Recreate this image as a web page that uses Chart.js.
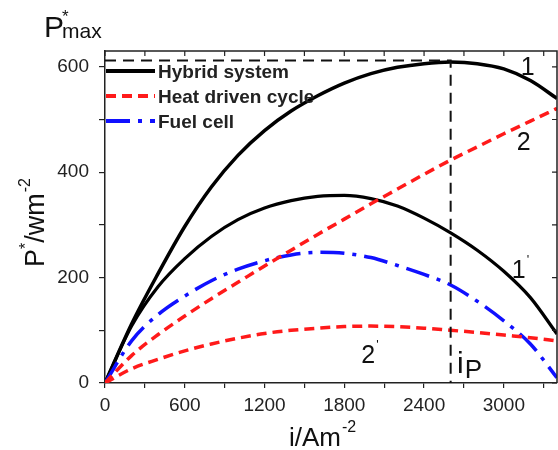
<!DOCTYPE html>
<html>
<head>
<meta charset="utf-8">
<script src="https://cdn.jsdelivr.net/npm/chart.js@4.4.0/dist/chart.umd.min.js"></script>
<style>
  html, body { margin: 0; padding: 0; background: #fff; }
</style>
</head>
<body>
<canvas id="powerChart" width="558" height="450"></canvas>
<script>
// current density, A m^-2
const currentDensity = [0, 200, 400, 600, 800, 1000, 1200, 1400, 1600, 1800, 2000, 2200, 2400, 2600, 2800, 3000, 3200, 3400];

// power density, W m^-2
const hybrid1 =     [0, 112, 208, 297, 372, 432, 479, 516, 545, 569, 587, 599, 606, 609, 606, 596, 574, 540];
const hybrid1b =    [0, 108, 183, 236, 278, 310, 332, 346, 354, 356, 350, 336, 313, 285, 252, 212, 162, 93];
const heatCycle2 =  [0, 52, 92, 127, 160, 191, 222, 252, 282, 311, 340, 368, 396, 423, 448, 473, 497, 521];
const heatCycle2b = [0, 27, 45, 61, 74, 85, 94, 100, 104, 107, 108, 107, 104, 100, 96, 91, 86, 80];
const fuelCell =    [0, 80, 130, 165, 194, 216, 232, 243, 248, 246, 238, 223, 206, 186, 155, 118, 74, 10];

// optimum point
const iP = 2600;
const pMax = 612;
const guideX = [0, iP, iP];
const guideY = [pMax, pMax, 0];

const xTicks = [0, 600, 1200, 1800, 2400, 3000];
const yTicks = [0, 200, 400, 600];

const legendNames = ['Hybrid system', 'Heat driven cycle', 'Fuel cell'];

function pts(xs, ys) {
  return xs.map((x, k) => ({ x: x, y: ys[k] }));
}

const FONT = 'Arial, "Liberation Sans", sans-serif';
Chart.defaults.font.family = FONT;

const redDash = [10, 6];
const blueDash = [24, 8, 4, 8];

function curve(data, color, width, dash) {
  return {
    data: data,
    borderColor: color,
    borderWidth: width,
    borderDash: dash || [],
    cubicInterpolationMode: 'monotone',
    pointRadius: 0,
    fill: false
  };
}

// draw text made of runs (superscripts / subscripts)
function drawRuns(ctx, x, y, runs) {
  let cx = x;
  runs.forEach(r => {
    ctx.font = (r.bold ? 'bold ' : '') + r.size + 'px ' + FONT;
    ctx.fillText(r.t, cx + (r.dx || 0), y + (r.dy || 0));
    cx += ctx.measureText(r.t).width + (r.dx || 0);
  });
}

const decorations = {
  id: 'decorations',
  afterDraw(chart) {
    const ctx = chart.ctx;
    const a = chart.chartArea;
    const xs = chart.scales.x, ys = chart.scales.y;
    ctx.save();
    ctx.strokeStyle = '#222';
    ctx.lineWidth = 1.5;
    // top and right frame
    ctx.beginPath();
    ctx.moveTo(a.left, a.top); ctx.lineTo(a.right, a.top); ctx.lineTo(a.right, a.bottom);
    ctx.stroke();
    // inward ticks on the top and right axes
    ctx.lineWidth = 1.2;
    ctx.beginPath();
    xs.ticks.forEach(t => {
      const px = xs.getPixelForValue(t.value);
      ctx.moveTo(px, a.top); ctx.lineTo(px, a.top + 5);
    });
    ys.ticks.forEach(t => {
      const py = ys.getPixelForValue(t.value);
      ctx.moveTo(a.right, py); ctx.lineTo(a.right - 5, py);
    });
    ctx.stroke();

    // legend
    const styles = [
      { color: '#000', dash: [] },
      { color: '#ff1a1a', dash: redDash },
      { color: '#1010ff', dash: blueDash }
    ];
    ctx.fillStyle = '#222';
    ctx.textBaseline = 'alphabetic';
    legendNames.forEach((name, k) => {
      const ly = a.top + 20 + k * 25;
      ctx.strokeStyle = styles[k].color;
      ctx.lineWidth = 4;
      ctx.setLineDash(styles[k].dash);
      ctx.beginPath();
      ctx.moveTo(a.left + 1, ly); ctx.lineTo(a.left + 50, ly);
      ctx.stroke();
      ctx.setLineDash([]);
      ctx.font = 'bold 19px ' + FONT;
      ctx.fillText(name, a.left + 53, ly + 7);
    });

    // curve labels, placed in data units
    ctx.fillStyle = '#111';
    const at = (i, p) => [xs.getPixelForValue(i), ys.getPixelForValue(p)];
    let q = at(3128, 584);
    drawRuns(ctx, q[0], q[1], [{ t: '1', size: 25 }]);
    q = at(3098, 442);
    drawRuns(ctx, q[0], q[1], [{ t: '2', size: 25 }]);
    q = at(3060, 199);
    drawRuns(ctx, q[0], q[1], [{ t: '1', size: 25 }, { t: '\'', size: 13, dy: -14, dx: 1 }]);
    q = at(1928, 38);
    drawRuns(ctx, q[0], q[1], [{ t: '2', size: 25 }, { t: '\'', size: 13, dy: -14, dx: 1 }]);
    q = at(2648, 19);
    drawRuns(ctx, q[0], q[1], [{ t: 'i', size: 30 }, { t: 'P', size: 26, dy: 5, dx: 1 }]);

    // P*max above the y axis
    drawRuns(ctx, 44, 37, [{ t: 'P', size: 30 }]);
    drawRuns(ctx, 62, 22, [{ t: '*', size: 17 }]);
    drawRuns(ctx, 62, 38, [{ t: 'max', size: 21 }]);

    // x axis title
    drawRuns(ctx, 289, 446, [{ t: 'i/Am', size: 26 }, { t: '-2', size: 16, dy: -14, dx: 1 }]);

    // y axis title
    ctx.translate(44, 267);
    ctx.rotate(-Math.PI / 2);
    drawRuns(ctx, 0, 0, [{ t: 'P', size: 27 }, { t: '*', size: 16, dy: -13 }, { t: '/wm', size: 27 }, { t: '-2', size: 16, dy: -14, dx: 1 }]);
    ctx.restore();
  }
};

const guide = curve(pts(guideX, guideY), '#111', 2, [11, 7]);
guide.cubicInterpolationMode = 'default';
guide.tension = 0;

new Chart(document.getElementById('powerChart'), {
  type: 'line',
  data: {
    datasets: [
      guide,
      curve(pts(currentDensity, heatCycle2b), '#ff1a1a', 3.5, redDash),
      curve(pts(currentDensity, heatCycle2), '#ff1a1a', 3.5, redDash),
      curve(pts(currentDensity, fuelCell), '#1010ff', 3.5, blueDash),
      curve(pts(currentDensity, hybrid1b), '#000', 3.2),
      curve(pts(currentDensity, hybrid1), '#000', 3.5)
    ]
  },
  options: {
    responsive: false,
    animation: false,
    devicePixelRatio: 1,
    layout: { padding: { top: 51, right: 1, bottom: 0, left: 0 } },
    plugins: { legend: { display: false }, tooltip: { enabled: false } },
    scales: {
      x: {
        type: 'linear', min: 0, max: 3400,
        afterFit: s => { s.height = 67; },
        ticks: {
          stepSize: 300, includeBounds: false, autoSkip: false, maxRotation: 0,
          padding: 6, color: '#222', font: { size: 19 },
          callback: v => xTicks.includes(v) ? String(v) : ''
        },
        grid: { drawOnChartArea: false, tickLength: 5, color: '#222', lineWidth: 1.2 },
        border: { color: '#222', width: 1.5 }
      },
      y: {
        type: 'linear', min: 0, max: 630,
        afterFit: s => { s.width = 105; },
        ticks: {
          stepSize: 100, includeBounds: false, autoSkip: false,
          padding: 10, color: '#222', font: { size: 19 },
          callback: v => yTicks.includes(v) ? String(v) : ''
        },
        grid: { drawOnChartArea: false, tickLength: 6, color: '#222', lineWidth: 1.2 },
        border: { color: '#222', width: 1.5 }
      }
    }
  },
  plugins: [decorations]
});
</script>
</body>
</html>
